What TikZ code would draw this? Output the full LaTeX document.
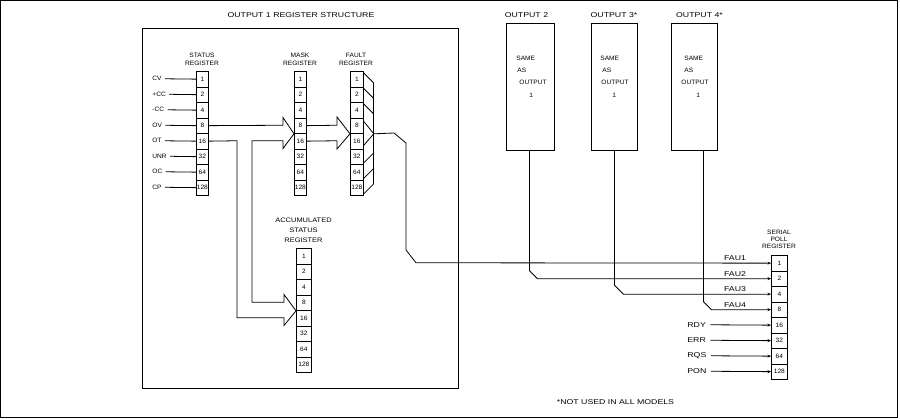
\documentclass[tikz,border=0pt]{standalone}
\usepackage{fontspec}
\setmainfont{Liberation Sans}
\newfontfamily\bigf[FakeStretch=1.25]{Liberation Sans}
\newfontfamily\smf[FakeStretch=1.05]{Liberation Sans}
\newfontfamily\accf[FakeStretch=1.15]{Liberation Sans}
\usetikzlibrary{calc,arrows.meta}
\begin{document}
\begin{tikzpicture}[x=1pt,y=-1pt,line width=0.8pt,
  bigtxt/.style={font=\bigf\fontsize{7}{8}\selectfont,inner sep=0pt},
  smtxt/.style={font=\smf\fontsize{6.3}{8}\selectfont,inner sep=0pt,align=center},
  acctxt/.style={font=\accf\fontsize{6.5}{10}\selectfont,inner sep=0pt,align=center},
  sertxt/.style={font=\smf\fontsize{6.3}{7}\selectfont,inner sep=0pt,align=center},
  boxtxt/.style={font=\smf\fontsize{6.3}{7}\selectfont,inner sep=0pt,anchor=west},
  cell/.style={draw,inner sep=0pt,minimum height=15.5pt,anchor=north west,font=\smf\fontsize{6.3}{7}\selectfont},
  frame/.style={draw,inner sep=0pt,anchor=north west},
  sarrow/.style={-{Stealth[length=3.5pt,width=3pt]}}
]
\useasboundingbox (0,0) rectangle (900,418);
\draw (0.8,0.8) rectangle (897,417);

% ---------- output 1 block
\node[frame,minimum width=316pt,minimum height=360pt] (ob1) at (142,28) {};
\node[bigtxt] (t1) at (301,15) {OUTPUT 1 REGISTER STRUCTURE};

% registers
\foreach \v [count=\i] in {1,2,4,8,16,32,64,128} {
  \node[cell,minimum width=12pt] (st-\i) at (196,{71+(\i-1)*15.5}) {\v};
  \node[cell,minimum width=12pt] (mk-\i) at (294,{71+(\i-1)*15.5}) {\v};
  \node[cell,minimum width=13pt] (ft-\i) at (350,{71+(\i-1)*15.5}) {\v};
  \node[cell,minimum width=15pt] (ac-\i) at (296,{248+(\i-1)*15.5}) {\v};
  \node[cell,minimum width=16pt] (sp-\i) at (771,{255+(\i-1)*15.5}) {\v};
}
\node[smtxt] (stl) at (202,59) {STATUS\\REGISTER};
\node[smtxt] (mkl) at (300,59) {MASK\\REGISTER};
\node[smtxt] (ftl) at (356,59) {FAULT\\REGISTER};
\node[acctxt] (acl) at (303.5,230.5) {ACCUMULATED\\STATUS\\REGISTER};
\node[sertxt] (spl) at (779,239) {SERIAL\\POLL\\REGISTER};

% status inputs
\foreach \t [count=\i] in {CV,+CC,-CC,OV,OT,UNR,OC,CP} {
  \node[smtxt,anchor=west] (in-\i) at (152,{78.75+(\i-1)*15.5}) {\t};
  \draw[shorten <=3pt] (in-\i.east) -- (st-\i.west);
}

% hollow bus arrows: status -> mask and status -> accumulated
\draw (st-4.east) -- (283,125.25) -- (283,117.5) -- (mk-4.south west)
      -- (283,148.5) -- (283,140.75) -- (252,140.75) -- (252,302.25)
      -- (284,302.25) -- (284,294.5) -- (ac-4.south west) -- (284,325.5)
      -- (284,317.75) -- (237,317.75) -- (237,140.75) -- (st-5.east);
% mask -> fault
\draw (mk-4.east) -- (337,125.25) -- (337,117) -- (ft-4.south west)
      -- (337,149) -- (337,140.75) -- (mk-5.east);

% fault OR bracket
\foreach \i in {1,2,3}
  \draw ($(ft-\i.north east)+(0,2)$) -- ($(ft-\i.north east)+(10,12)$);
\foreach \i in {6,7,8}
  \draw ($(ft-\i.south east)+(0,-2)$) -- ($(ft-\i.south east)+(10,-12)$);
\coordinate (fo) at ($(ft-4.south east)+(10,0)$);
\draw ($(ft-4.north east)+(0,4)$) -- (fo) -- ($(ft-5.south east)+(0,-4)$);
\draw ($(ft-1.north east)+(10,12)$) -- ($(ft-8.south east)+(10,-12)$);

% fault -> serial poll FAU1
\draw[sarrow] (fo) -- (394,133) -- (406,143) -- (406,250) -- (416,262.75) -- (sp-1.west);

% ---------- outputs 2..4
\node[frame,minimum width=48pt,minimum height=127pt] (o2) at (506,23) {};
\node[frame,minimum width=46pt,minimum height=127pt] (o3) at (591,23) {};
\node[frame,minimum width=46pt,minimum height=127pt] (o4) at (671,23) {};
\node[bigtxt] (t2) at (526.5,15) {OUTPUT 2};
\node[bigtxt] (t3) at (614,15) {OUTPUT 3*};
\node[bigtxt] (t4) at (699.5,15) {OUTPUT 4*};

\node[boxtxt] (o2a) at (516,58) {SAME};
\node[boxtxt] (o2b) at (517,70) {AS};
\node[boxtxt] (o2c) at (519,82) {OUTPUT};
\node[boxtxt] (o2d) at (529,95) {1};
\node[boxtxt] (o3a) at (600,58) {SAME};
\node[boxtxt] (o3b) at (602,70) {AS};
\node[boxtxt] (o3c) at (601,82) {OUTPUT};
\node[boxtxt] (o3d) at (612,95) {1};
\node[boxtxt] (o4a) at (684,58) {SAME};
\node[boxtxt] (o4b) at (684,70) {AS};
\node[boxtxt] (o4c) at (681,82) {OUTPUT};
\node[boxtxt] (o4d) at (696,95) {1};

\coordinate (o2s) at ($(o2.south)+(-1,0)$);
\coordinate (o4s) at ($(o4.south)+(9,0)$);
\draw[sarrow] (o2s) -- ($(o2s |- sp-2.west)+(0,-8)$) -- ($(o2s |- sp-2.west)+(8,0)$) -- (sp-2.west);
\draw[sarrow] (o3.south) -- ($(o3.south |- sp-3.west)+(0,-9)$) -- ($(o3.south |- sp-3.west)+(9,0)$) -- (sp-3.west);
\draw[sarrow] (o4s) -- ($(o4s |- sp-4.west)+(0,-8)$) -- ($(o4s |- sp-4.west)+(8,0)$) -- (sp-4.west);

% FAU labels
\foreach \i in {1,2,3,4}
  \node[bigtxt] (fau-\i) at ($(735,0 |- sp-\i.west)+(0,-5)$) {FAU\i};

% other serial poll inputs
\foreach \t [count=\i from 5] in {RDY,ERR,RQS,PON} {
  \node[bigtxt,anchor=west] (sin-\i) at (687,{262.75+(\i-1)*15.5}) {\t};
  \draw[sarrow,shorten <=4pt] (sin-\i.east) -- (sp-\i.west);
}

\node[bigtxt] (note) at (615.5,402) {*NOT USED IN ALL MODELS};
\end{tikzpicture}
\end{document}
